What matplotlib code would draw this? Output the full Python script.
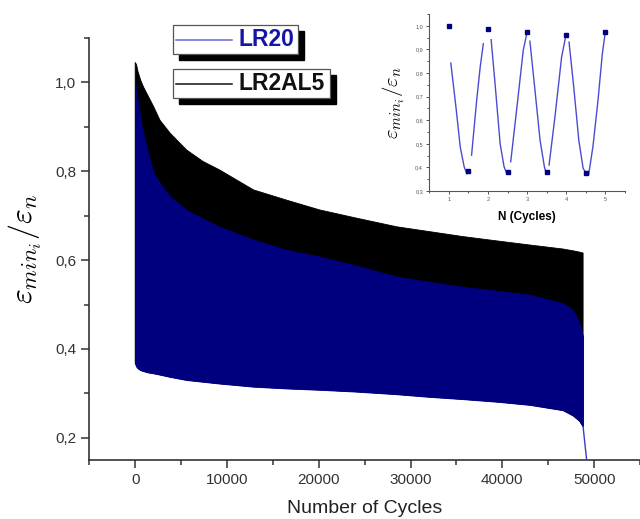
import numpy as np
import matplotlib
matplotlib.use("Agg")
import matplotlib.pyplot as plt
from matplotlib.patches import Rectangle
from matplotlib.lines import Line2D
from matplotlib.ticker import MultipleLocator, FixedLocator

plt.rcParams['font.family'] = ['Liberation Sans', 'DejaVu Sans']
plt.rcParams['mathtext.fontset'] = 'cm'

# envelope of the oscillating signals (max / min of each cycle)
cycles = [0, 150, 300, 600, 900, 1400, 2000, 2700, 3800, 5600, 7400, 9200,
          12900, 16500, 20100, 24000, 28500, 32100, 35700, 39500, 43000,
          46600, 47700, 48400, 48800]
lr2al5_max = [1.045, 1.04, 1.025, 1.005, 0.99, 0.97, 0.946, 0.915, 0.886,
              0.848, 0.822, 0.803, 0.758, 0.735, 0.713, 0.695, 0.675, 0.664,
              0.653, 0.643, 0.634, 0.625, 0.621, 0.618, 0.616]
lr20_max = [1.0, 0.975, 0.955, 0.915, 0.885, 0.84, 0.796, 0.773, 0.743,
            0.713, 0.693, 0.675, 0.646, 0.623, 0.608, 0.588, 0.563, 0.551,
            0.540, 0.531, 0.522, 0.503, 0.488, 0.458, 0.428]
lr20_min = [0.368, 0.36, 0.356, 0.352, 0.350, 0.347, 0.345, 0.342, 0.337,
            0.330, 0.326, 0.322, 0.315, 0.311, 0.308, 0.304, 0.298, 0.292,
            0.287, 0.281, 0.274, 0.262, 0.250, 0.238, 0.225]
# final failure drop of LR20
tail_cycles = [48800, 49170]
tail_values = [0.225, 0.153]

x_ticks = [0, 10000, 20000, 30000, 40000, 50000]
y_ticks = [0.2, 0.4, 0.6, 0.8, 1.0]
y_tick_labels = ['0,2', '0,4', '0,6', '0,8', '1,0']

# inset: first cycles of LR20
nan = float('nan')
inset_n = [1.05, 1.19, 1.29, 1.39, 1.46, 1.48, nan,
           1.58, 1.71, 1.80, 1.88, nan,
           2.08, 2.18, 2.31, 2.41, 2.47, nan,
           2.58, 2.73, 2.90, 2.99, nan,
           3.07, 3.20, 3.33, 3.44, 3.48, nan,
           3.56, 3.71, 3.88, 3.99, nan,
           4.07, 4.19, 4.32, 4.43, 4.52, 4.57, 4.68, 4.81, 4.92, 4.99]
inset_eps = [0.842, 0.642, 0.487, 0.403, 0.372, 0.375, nan,
             0.452, 0.684, 0.825, 0.924, nan,
             0.941, 0.755, 0.50, 0.403, 0.378, nan,
             0.424, 0.642, 0.896, 0.966, nan,
             0.935, 0.727, 0.515, 0.403, 0.378, nan,
             0.41, 0.614, 0.867, 0.959, nan,
             0.931, 0.741, 0.515, 0.396, 0.372, 0.368, 0.487, 0.684, 0.88, 0.966]
peak_n = [1, 1.5, 2, 2.5, 3, 3.5, 4, 4.5, 5]
peak_eps = [1.0, 0.385, 0.985, 0.38, 0.972, 0.38, 0.96, 0.378, 0.972]
inset_x_ticks = [1, 2, 3, 4, 5]
inset_y_ticks = [0.3, 0.4, 0.5, 0.6, 0.7, 0.8, 0.9, 1.0]
inset_y_labels = ['0,3', '0,4', '0,5', '0,6', '0,7', '0,8', '0,9', '1,0']

series_names = ['LR20', 'LR2AL5']
series_colors = ['#00007f', '#000000']

W, H = 640, 519
fig = plt.figure(figsize=(6.4, 5.19), dpi=100)

def px_box(x0, y0, x1, y1):
    # pixel box (from top-left) -> figure fraction [l, b, w, h]
    return [x0 / W, 1 - y1 / H, (x1 - x0) / W, (y1 - y0) / H]

axis_grey = '#333333'

# ---- main plot ----
ax = fig.add_axes(px_box(89.3, 38, 640, 460))
ax.fill(cycles + cycles[::-1], lr2al5_max + lr20_min[::-1],
        color=series_colors[1], lw=0.6)
ax.fill_between(cycles, lr20_min, lr20_max, color=series_colors[0], lw=0.6)
ax.plot(tail_cycles, tail_values, color='#3a3acc', lw=1)

ax.set_xlim(-5000, 55000)
ax.set_ylim(0.15, 1.10)
ax.xaxis.set_major_locator(FixedLocator(x_ticks))
ax.xaxis.set_minor_locator(MultipleLocator(5000))
ax.yaxis.set_major_locator(FixedLocator(y_ticks))
ax.set_yticklabels(y_tick_labels)
ax.yaxis.set_minor_locator(MultipleLocator(0.1))
for s in ['top', 'right']:
    ax.spines[s].set_visible(False)
for s in ['left', 'bottom']:
    ax.spines[s].set_linewidth(1.2)
    ax.spines[s].set_color(axis_grey)
ax.tick_params(which='major', direction='out', length=5.5, width=1.1,
               labelsize=11, colors=axis_grey, pad=4)
ax.tick_params(which='minor', direction='out', length=3.5, width=1.1,
               colors=axis_grey)
ax.set_xlabel('Number of Cycles', fontsize=14, color='#222222', labelpad=9)
ax.set_ylabel(r'$\varepsilon_{min_i}/\varepsilon_n$', fontsize=23, labelpad=8)

# ---- legend boxes with drop shadows ----
leg_boxes = [(172.7, 25, 298.3, 54.3), (172.7, 69.3, 330, 97.7)]
leg_text_colors = ['#1414a8', '#111111']
leg_line_colors = ['#6a6ad6', '#111111']
for i, name in enumerate(series_names):
    x0, y0, x1, y1 = leg_boxes[i]
    fig.add_artist(Rectangle(((x0 + 6) / W, 1 - (y1 + 6) / H),
                             (x1 - x0) / W, (y1 - y0) / H,
                             transform=fig.transFigure, facecolor='black',
                             edgecolor='black', zorder=5))
    fig.add_artist(Rectangle((x0 / W, 1 - y1 / H), (x1 - x0) / W, (y1 - y0) / H,
                             transform=fig.transFigure, facecolor='white',
                             edgecolor='#555555', lw=0.9, zorder=6))
    yc = 1 - (y0 + y1) / 2 / H
    fig.add_artist(Line2D([176 / W, 232 / W], [yc, yc], color=leg_line_colors[i],
                          lw=1.1, transform=fig.transFigure, zorder=7))
    fig.text(238 / W, yc, name, fontsize=16.5, fontweight='bold',
             color=leg_text_colors[i], va='center', ha='left', zorder=7)

# ---- inset ----
axi = fig.add_axes(px_box(429.3, 14, 625, 191))
axi.plot(inset_n, inset_eps, color='#4b4bd2', lw=1)
axi.plot(peak_n, peak_eps, 's', color='#00007f', ms=3)
axi.set_xlim(0.5, 5.5)
axi.set_ylim(0.3, 1.05)
axi.xaxis.set_major_locator(FixedLocator(inset_x_ticks))
axi.xaxis.set_minor_locator(MultipleLocator(0.5))
axi.yaxis.set_major_locator(FixedLocator(inset_y_ticks))
axi.set_yticklabels(inset_y_labels)
axi.yaxis.set_minor_locator(MultipleLocator(0.05))
for s in ['top', 'right']:
    axi.spines[s].set_visible(False)
for s in ['left', 'bottom']:
    axi.spines[s].set_linewidth(0.8)
    axi.spines[s].set_color('#555555')
axi.tick_params(which='major', direction='out', length=2.5, width=0.7,
                labelsize=4, colors='#555555', pad=2)
axi.tick_params(which='minor', direction='out', length=1.5, width=0.7,
                colors='#555555')
axi.set_xlabel('N (Cycles)', fontsize=8.5, fontweight='bold', labelpad=6)
axi.set_ylabel(r'$\varepsilon_{min_i}/\varepsilon_n$', fontsize=15, labelpad=6)

fig.savefig('out.png', dpi=100)
